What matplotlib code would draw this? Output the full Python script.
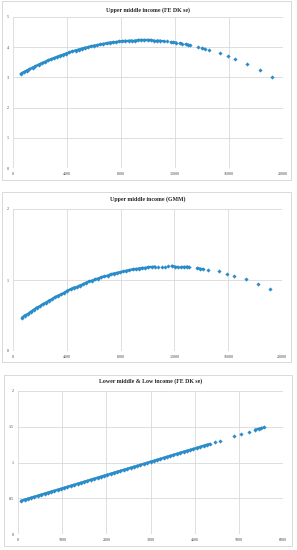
import matplotlib
matplotlib.use("Agg")
import matplotlib.pyplot as plt
from matplotlib.patches import Rectangle
from matplotlib.collections import LineCollection

# ---------------- data ----------------
title1 = "Upper middle income (FE DK se)"
x1 = [570, 780, 1000, 1210, 1450, 1660, 1900, 2120, 2350, 2580, 2800, 3030, 3270,
      3500, 3710, 3950, 4180, 4400, 4630, 4860, 5100, 5320, 5550, 5780, 6010, 6240,
      6470, 6700, 6930, 7160, 7400, 7630, 7860, 8100, 8330, 8560, 8800, 9030, 9260,
      9500, 9730, 9970, 10200, 10440, 10680, 10910, 11150, 11420, 11700, 11880, 12100,
      12350, 12520, 12780, 12950, 13100, 13680, 14000, 14200, 14490, 15330, 15930,
      16440, 17330, 18270, 19200]
y1 = [3.12, 3.17, 3.22, 3.27, 3.32, 3.37, 3.42, 3.47, 3.51, 3.56, 3.60, 3.64, 3.68,
      3.72, 3.75, 3.79, 3.83, 3.86, 3.89, 3.92, 3.95, 3.98, 4.00, 4.03, 4.05, 4.07,
      4.09, 4.11, 4.13, 4.15, 4.16, 4.17, 4.19, 4.20, 4.21, 4.21, 4.22, 4.22, 4.23,
      4.23, 4.23, 4.23, 4.23, 4.22, 4.22, 4.21, 4.20, 4.19, 4.17, 4.16, 4.15,
      4.13, 4.12, 4.10, 4.08, 4.07, 4.00, 3.96, 3.94, 3.90, 3.80, 3.70,
      3.61, 3.45, 3.24, 3.01]
xticks1 = [0, 4000, 8000, 12000, 16000, 20000]
yticks1 = [0, 1, 2, 3, 4, 5]

title2 = "Upper middle income (GMM)"
x2 = [670, 880, 1100, 1310, 1550, 1760, 2000, 2220, 2450, 2680, 2900, 3130, 3370,
      3600, 3810, 4050, 4280, 4500, 4730, 4960, 5200, 5420, 5650, 5880, 6110, 6340,
      6570, 6800, 7030, 7260, 7500, 7730, 7960, 8200, 8430, 8660, 8900, 9130, 9360,
      9600, 9830, 10070, 10300, 10540, 10800, 11050, 11300, 11550, 11800, 12020,
      12250, 12500, 12720, 12950, 13100, 13710, 13900, 14130, 14530, 15300, 15900,
      16400, 17300, 18200, 19130]
y2 = [0.47, 0.50, 0.52, 0.55, 0.58, 0.61, 0.63, 0.66, 0.68, 0.71, 0.73, 0.76, 0.78,
      0.80, 0.82, 0.85, 0.87, 0.89, 0.90, 0.92, 0.94, 0.96, 0.98, 0.99, 1.01, 1.02,
      1.04, 1.05, 1.06, 1.08, 1.09, 1.10, 1.11, 1.12, 1.13, 1.14, 1.15, 1.155, 1.16,
      1.17, 1.17, 1.18, 1.18, 1.19, 1.19, 1.19, 1.19, 1.20, 1.20, 1.19,
      1.19, 1.19, 1.19, 1.19, 1.18, 1.17, 1.16, 1.16, 1.14, 1.12, 1.09,
      1.06, 1.01, 0.94, 0.87]
xticks2 = [0, 4000, 8000, 12000, 16000, 20000]
yticks2 = [0, 1, 2]

title3 = "Lower middle & Low income (FE DK se)"
x3 = [70, 150, 220, 300, 370, 450, 520, 600, 670, 750, 820, 900, 970, 1050, 1120,
      1200, 1270, 1350, 1420, 1500, 1570, 1650, 1720, 1800, 1870, 1950, 2020, 2100,
      2170, 2250, 2320, 2400, 2470, 2550, 2620, 2700, 2770, 2850, 2920, 3000, 3070,
      3150, 3220, 3300, 3370, 3450, 3520, 3600, 3670, 3750, 3820, 3900, 3970, 4050,
      4120, 4200, 4270, 4340, 4450, 4580, 4900, 5060, 5230, 5370, 5450, 5500, 5580]
y3 = [0.465, 0.480, 0.493, 0.508, 0.521, 0.536, 0.549, 0.564, 0.577, 0.592, 0.605,
      0.619, 0.632, 0.647, 0.660, 0.675, 0.688, 0.703, 0.716, 0.731, 0.744, 0.759,
      0.772, 0.787, 0.800, 0.815, 0.828, 0.843, 0.856, 0.871, 0.884, 0.898, 0.911,
      0.926, 0.939, 0.954, 0.967, 0.982, 0.995, 1.010, 1.023, 1.038, 1.051, 1.066,
      1.079, 1.094, 1.107, 1.122, 1.135, 1.150, 1.163, 1.177, 1.190, 1.205, 1.218,
      1.233, 1.246, 1.259, 1.28, 1.30, 1.37, 1.40, 1.43, 1.46, 1.47, 1.48, 1.49]
xticks3 = [0, 1000, 2000, 3000, 4000, 5000, 6000]
yticks3 = [0, 0.5, 1, 1.5, 2]
ytlabels3 = ["0", "0.5", "1", "1.5", "2"]

# ---------------- drawing ----------------
W, H = 297, 550
fig = plt.figure(figsize=(W / 100, H / 100), dpi=100)
fig.patch.set_facecolor("white")

SERIF = ["Liberation Serif", "DejaVu Serif"]
BLUE = "#2a8cc8"
GRID = "#d9d9d9"


def fx(px):
    return px / W


def fy(py):
    return 1 - py / H


def box(x0, y0, x1, y1):
    fig.patches.append(Rectangle((fx(x0), fy(y1)), fx(x1) - fx(x0), fy(y0) - fy(y1),
                                 transform=fig.transFigure, fill=False,
                                 edgecolor=GRID, lw=0.7))


def panel(rect_px, xs, ys, xticks, yticks, ylabels, title, title_py, gap):
    l, t, r, b = rect_px
    ax = fig.add_axes([fx(l), fy(b), fx(r) - fx(l), fy(t) - fy(b)])
    # overlapping markers of the dense part read as a thick band
    segs = [[(xs[i], ys[i]), (xs[i + 1], ys[i + 1])]
            for i in range(len(xs) - 1) if xs[i + 1] - xs[i] <= gap]
    ax.add_collection(LineCollection(segs, colors=BLUE, linewidths=1.7,
                                     capstyle="round", zorder=3))
    ax.scatter(xs, ys, s=4.5, color=BLUE, marker="D", linewidths=0, zorder=3)
    ax.set_xlim(xticks[0], xticks[-1])
    ax.set_ylim(yticks[0], yticks[-1])
    ax.set_xticks(xticks)
    ax.set_yticks(yticks)
    ax.set_xticklabels([str(v) for v in xticks], family=SERIF, fontsize=2.9, color="#404040")
    ax.set_yticklabels(ylabels, family=SERIF, fontsize=2.9, color="#404040")
    ax.tick_params(length=0, pad=3)
    ax.grid(True, color=GRID, lw=0.6)
    ax.set_axisbelow(True)
    for s in ax.spines.values():
        s.set_visible(False)
    fig.text(fx((l + r) / 2), fy(title_py), title, ha="center", va="center",
             family=SERIF, fontsize=4.2, fontweight="bold", color="#262626")
    return ax


box(2, 1, 291, 180)
box(2, 192, 291, 362)
box(4, 375, 292, 546)

panel((13, 17, 283, 168), x1, y1, xticks1, yticks1, [str(v) for v in yticks1],
      title1, 10, 245)
panel((13, 209, 282, 351), x2, y2, xticks2, yticks2, [str(v) for v in yticks2],
      title2, 199, 245)
panel((18, 391, 283, 534), x3, y3, xticks3, yticks3, ytlabels3,
      title3, 381, 80)

fig.savefig("out.png", dpi=100, facecolor="white")
